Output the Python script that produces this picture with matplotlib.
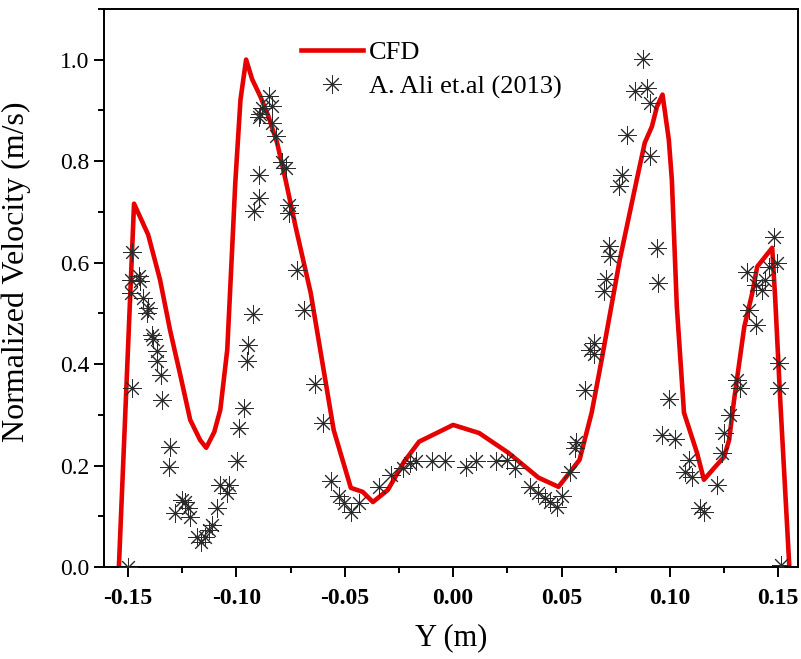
import numpy as np
import matplotlib
matplotlib.use("Agg")
import matplotlib.pyplot as plt
from matplotlib.ticker import MultipleLocator

# CFD profile (red line)
cfd_y = [-0.1542, -0.1472, -0.1407, -0.1352, -0.1306, -0.1259, -0.1213, -0.1167, -0.1139,
         -0.1102, -0.1074, -0.1042, -0.1019, -0.1005, -0.0981, -0.0955, -0.0927, -0.0889,
         -0.0852, -0.0812, -0.0773, -0.0727, -0.0657, -0.0551, -0.0472, -0.0417, -0.0370,
         -0.0301, -0.0227, -0.0157, 0.0, 0.0120, 0.0255, 0.0394, 0.0486, 0.0583, 0.0639,
         0.0685, 0.0769, 0.0847, 0.0884, 0.0917, 0.0940, 0.0966, 0.0995, 0.1009, 0.1032,
         0.1065, 0.1125, 0.1157, 0.1208, 0.1250, 0.1273, 0.1296, 0.1343, 0.1380, 0.1403,
         0.1472, 0.1486, 0.1509, 0.1551]
cfd_v = [0.0, 0.716, 0.655, 0.566, 0.467, 0.379, 0.290, 0.250, 0.235,
         0.266, 0.310, 0.428, 0.631, 0.757, 0.921, 1.0, 0.961, 0.927,
         0.888, 0.836, 0.763, 0.671, 0.540, 0.270, 0.156, 0.148, 0.128,
         0.152, 0.207, 0.247, 0.280, 0.264, 0.225, 0.176, 0.158, 0.211, 0.304,
         0.408, 0.606, 0.763, 0.836, 0.868, 0.907, 0.931, 0.842, 0.763, 0.513,
         0.304, 0.225, 0.172, 0.197, 0.217, 0.250, 0.329, 0.473, 0.540, 0.592,
         0.629, 0.527, 0.329, 0.0]

# A. Ali et.al (2013) measurements
exp_y = [-0.1499, -0.1483, -0.1483, -0.1488, -0.1448, -0.1444, -0.1488, -0.1429, -0.1406,
         -0.1413, -0.1390, -0.1383, -0.1367, -0.1367, -0.1347, -0.1344, -0.1306, -0.1309,
         -0.1251, -0.1236, -0.1282, -0.1225, -0.1216, -0.1182, -0.1162, -0.1144, -0.1128,
         -0.1113, -0.1089, -0.1074, -0.1043, -0.1036, -0.0997, -0.0989, -0.0963, -0.0950,
         -0.0944, -0.0923, -0.0917, -0.0897, -0.0897, -0.0897, -0.0889, -0.0881, -0.0850,
         -0.0835, -0.0835, -0.0819, -0.0788, -0.0769, -0.0758, -0.0758, -0.0719, -0.0688,
         -0.0639, -0.0599, -0.0565, -0.0526, -0.0503, -0.0472, -0.0434, -0.0341, -0.0287,
         -0.0233, -0.0198, -0.0171, -0.0099, -0.0037, 0.0060, 0.0106, 0.0199, 0.0250,
         0.0284, 0.0353, 0.0392, 0.0423, 0.0446, 0.0477, 0.0500, 0.0538, 0.0569, 0.0562,
         0.0608, 0.0631, 0.0651, 0.0648, 0.0696, 0.0704, 0.0719, 0.0724, 0.0767, 0.0778,
         0.0801, 0.0839, 0.0878, 0.0894, 0.0909, 0.0909, 0.0940, 0.0944, 0.0997, 0.0963,
         0.1022, 0.1087, 0.1071, 0.1102, 0.1140, 0.1156, 0.1218, 0.1241, 0.1249, 0.1279,
         0.1310, 0.1325, 0.1364, 0.1395, 0.1356, 0.1395, 0.1426, 0.1441, 0.1457, 0.1495,
         0.1480, 0.1503, 0.1503, 0.1511]
exp_v = [0.0, 0.352, 0.620, 0.566, 0.573, 0.563, 0.540, 0.530, 0.510,
         0.500, 0.458, 0.450, 0.425, 0.405, 0.379, 0.329, 0.237, 0.198,
         0.132, 0.129, 0.106, 0.116, 0.099, 0.060, 0.050, 0.060, 0.073,
         0.083, 0.116, 0.162, 0.145, 0.162, 0.208, 0.274, 0.313, 0.405,
         0.438, 0.499, 0.701, 0.727, 0.773, 0.886, 0.892, 0.905, 0.928,
         0.908, 0.875, 0.849, 0.799, 0.786, 0.714, 0.698, 0.586, 0.507,
         0.361, 0.283, 0.170, 0.139, 0.126, 0.109, 0.127, 0.157, 0.181,
         0.195, 0.205, 0.208, 0.209, 0.209, 0.198, 0.208, 0.208, 0.210,
         0.195, 0.157, 0.145, 0.136, 0.129, 0.119, 0.139, 0.188, 0.247, 0.234,
         0.349, 0.428, 0.442, 0.420, 0.543, 0.567, 0.633, 0.612, 0.751, 0.773,
         0.852, 0.939, 1.001, 0.944, 0.915, 0.809, 0.629, 0.560, 0.331, 0.260,
         0.252, 0.210, 0.188, 0.178, 0.116, 0.109, 0.162, 0.224, 0.264, 0.300,
         0.369, 0.352, 0.507, 0.477, 0.582, 0.556, 0.546, 0.566, 0.592, 0.599,
         0.651, 0.402, 0.352, 0.004]

plt.rcParams['font.family'] = ['Liberation Serif', 'DejaVu Serif']

fig = plt.figure(figsize=(8.01, 6.59), dpi=100)
ax = fig.add_axes([0.130, 0.1396, 0.866, 0.847])

ax.plot(cfd_y, cfd_v, color='#e60000', lw=3.3, label='CFD', zorder=2)
ax.plot(exp_y, exp_v, ls='none', marker=(8, 2, 0), ms=13, mew=0.7,
        color='#2a2a2a', label='A. Ali et.al (2013)', zorder=3)

ax.set_xlim(-0.161, 0.159)
ax.set_ylim(0, 1.1)
ax.xaxis.set_major_locator(MultipleLocator(0.05))
ax.xaxis.set_minor_locator(MultipleLocator(0.025))
ax.yaxis.set_major_locator(MultipleLocator(0.2))
ax.yaxis.set_minor_locator(MultipleLocator(0.1))
ax.set_xticklabels([f"{v:.2f}" for v in ax.get_xticks()])
ax.tick_params(which='major', direction='out', length=7, width=1.4, labelsize=17)
ax.tick_params(which='minor', direction='out', length=4, width=1.4)
ax.tick_params(axis='x', pad=8)
for lab in ax.get_xticklabels():
    lab.set_fontweight('bold')
ax.set_yticks(np.arange(0, 1.01, 0.2))
ax.set_yticklabels([f"{v:.1f}" for v in np.arange(0, 1.01, 0.2)])
for s in ax.spines.values():
    s.set_linewidth(1.4)

ax.set_xlabel('Y (m)', fontsize=22, labelpad=10)
ax.set_ylabel('Normalized Velocity (m/s)', fontsize=23)
ax.yaxis.set_label_coords(-0.106, 0.529)

ax.legend(loc='upper left', bbox_to_anchor=(0.25, 0.985), frameon=False,
          fontsize=19, handlelength=2.35, handletextpad=0.2, labelspacing=0.4)

fig.savefig('out.png', dpi=100)
